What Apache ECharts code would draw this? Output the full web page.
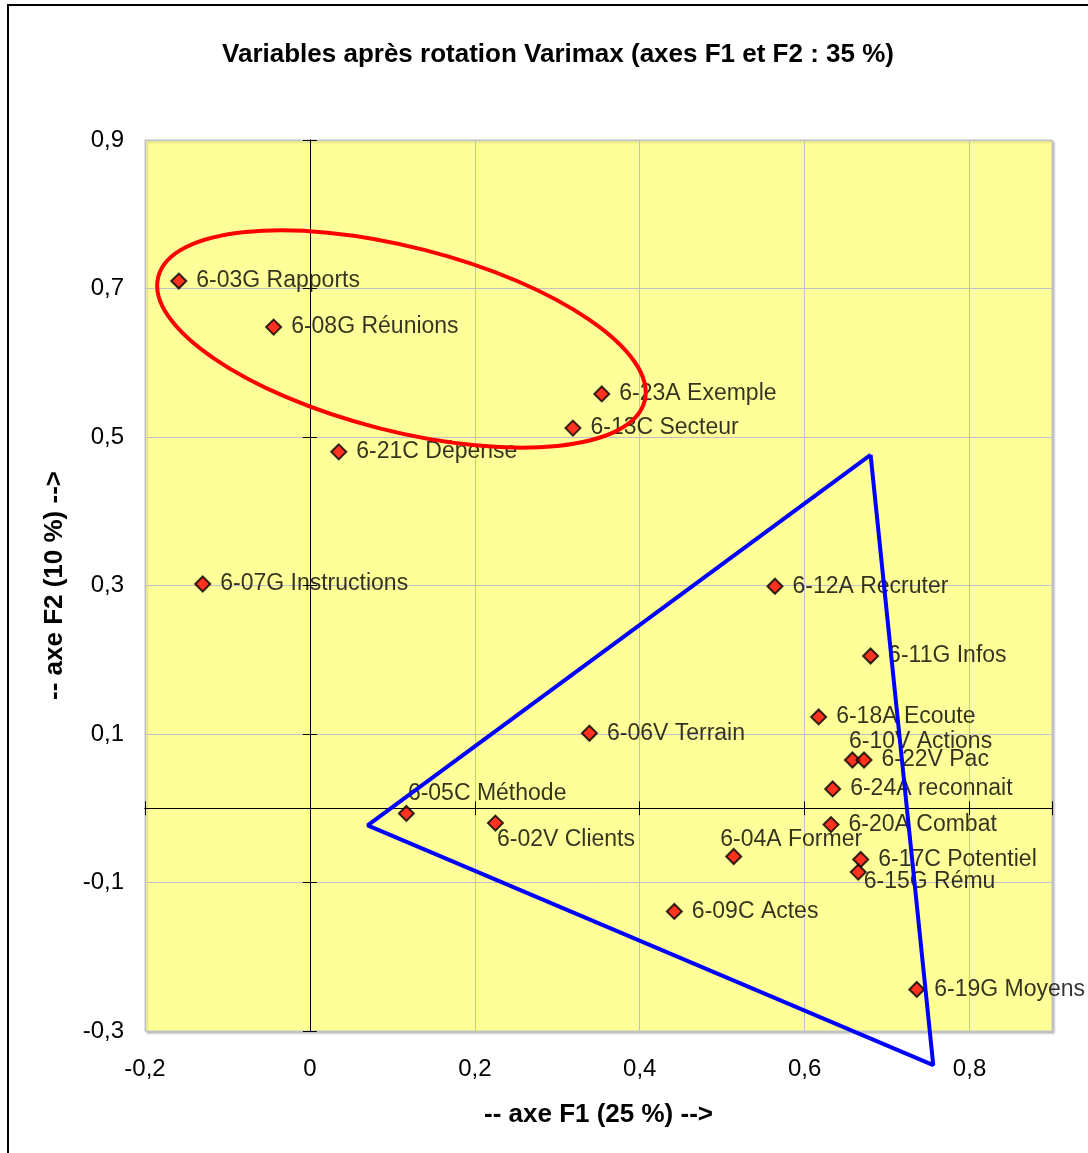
<!DOCTYPE html>
<html>
<head>
<meta charset="utf-8">
<title>Variables après rotation Varimax</title>
<script src="https://cdn.jsdelivr.net/npm/echarts@6/dist/echarts.min.js"></script>
<style>
  html, body { margin: 0; padding: 0; background: #ffffff; }
  #chart { width: 1088px; height: 1153px; }
</style>
</head>
<body>
<div id="chart"></div>
<script>
// Variable loadings on the two rotated factors
const variables = [
  '6-03G Rapports', '6-08G Réunions', '6-23A Exemple', '6-13C Secteur',
  '6-21C Dépense', '6-07G Instructions', '6-12A Recruter', '6-11G Infos',
  '6-18A Ecoute', '6-06V Terrain', '6-10V Actions', '6-22V Pac',
  '6-24A reconnait', '6-05C Méthode', '6-02V Clients', '6-20A Combat',
  '6-04A Former', '6-17C Potentiel', '6-15G Rému', '6-09C Actes',
  '6-19G Moyens'
];
const f1 = [
  -0.159, -0.044, 0.354, 0.319,
  0.035, -0.130, 0.564, 0.680,
  0.617, 0.339, 0.658, 0.672,
  0.634, 0.117, 0.225, 0.632,
  0.514, 0.668, 0.665, 0.442,
  0.736
];
const f2 = [
  0.710, 0.648, 0.558, 0.512,
  0.480, 0.302, 0.299, 0.205,
  0.123, 0.101, 0.065, 0.065,
  0.026, -0.007, -0.020, -0.022,
  -0.065, -0.069, -0.086, -0.139,
  -0.244
];

// Axis ranges and tick spacing
const xRange = [-0.2, 0.9];
const yRange = [-0.3, 0.9];
const tickStep = 0.2;

// Annotations: triangle grouping (F1, F2 vertices) and the circled group centre
const triangleVertices = [[0.680, 0.476], [0.070, -0.023], [0.756, -0.346]];
const ellipseCentre = [0.111, 0.632];

// Labels that sit away from the default right-hand position (pixel shifts)
const labelShift = {
  '6-10V Actions': [-21, -18],
  '6-05C Méthode': [-16, -20],
  '6-02V Clients': [-16, 17],
  '6-04A Former': [-31, -17],
  '6-15G Rému': [-12, 10]
};

const FONT = '"Liberation Sans", Arial, sans-serif';

function fmt(v) {
  if (Math.abs(v) < 1e-9) return '0';
  return v.toFixed(1).replace('.', ',');
}

const points = variables.map((name, i) => {
  const item = { name: name, value: [f1[i], f2[i]] };
  if (labelShift[name]) item.label = { offset: labelShift[name] };
  return item;
});

const triangleData = triangleVertices.concat([triangleVertices[0]]);

function valueAxis(range, extra) {
  return Object.assign({
    type: 'value',
    min: range[0],
    max: range[1],
    interval: tickStep,
    axisLine: { show: false, onZero: false },
    axisTick: { show: false },
    axisLabel: { show: false },
    splitLine: { show: false }
  }, extra);
}

const zeroLine = { show: true, onZero: true, lineStyle: { color: '#000000', width: 1 } };
const zeroTick = { show: true, length: 7, inside: false, lineStyle: { color: '#000000', width: 1 } };

const chart = echarts.init(document.getElementById('chart'), null, { renderer: 'canvas' });

const option = {
  backgroundColor: '#ffffff',
  animation: false,
  title: {
    text: 'Variables après rotation Varimax (axes F1 et F2 : 35 %)',
    left: 553,
    top: 37,
    textAlign: 'center',
    textStyle: { fontFamily: FONT, fontSize: 26, fontWeight: 'bold', color: '#000000' }
  },
  grid: {
    left: 145, top: 140, width: 907, height: 891,
    show: true,
    backgroundColor: '#ffff99',
    borderColor: '#c4c4c4',
    borderWidth: 1,
    shadowColor: 'rgba(0,0,0,0.25)',
    shadowBlur: 2,
    shadowOffsetX: 2,
    shadowOffsetY: 2
  },
  xAxis: [
    valueAxis(xRange, {
      position: 'bottom',
      axisLabel: {
        show: true, formatter: fmt, margin: 26, showMaxLabel: false,
        fontFamily: FONT, fontSize: 24, color: '#000000'
      },
      splitLine: { show: true, lineStyle: { color: '#c0c0c8', width: 1 } },
      name: '-- axe F1 (25 %) -->',
      nameLocation: 'middle',
      nameGap: 71,
      nameTextStyle: { fontFamily: FONT, fontSize: 26, fontWeight: 'bold', color: '#000000' }
    }),
    valueAxis(xRange, { position: 'bottom', axisLine: zeroLine, axisTick: zeroTick }),
    valueAxis(xRange, { position: 'top', axisLine: zeroLine, axisTick: zeroTick })
  ],
  yAxis: [
    valueAxis(yRange, {
      position: 'left',
      axisLabel: {
        show: true, formatter: fmt, margin: 21,
        fontFamily: FONT, fontSize: 24, color: '#000000'
      },
      splitLine: { show: true, lineStyle: { color: '#c0c0c8', width: 1 } },
      name: '-- axe F2 (10 %) -->',
      nameLocation: 'middle',
      nameRotate: 90,
      nameGap: 77,
      nameTextStyle: { fontFamily: FONT, fontSize: 26, fontWeight: 'bold', color: '#000000' }
    }),
    valueAxis(yRange, { position: 'left', axisLine: zeroLine, axisTick: zeroTick }),
    valueAxis(yRange, { position: 'right', axisLine: zeroLine, axisTick: zeroTick })
  ],
  series: [
    {
      type: 'scatter',
      xAxisIndex: 0,
      yAxisIndex: 0,
      symbol: 'diamond',
      symbolSize: 15,
      itemStyle: { color: '#ff0000', borderColor: '#000000', borderWidth: 2 },
      label: {
        show: true,
        position: 'right',
        distance: 9,
        formatter: p => p.name,
        fontFamily: FONT,
        fontSize: 23,
        color: '#000000'
      },
      data: points,
      z: 3
    },
    {
      type: 'line',
      xAxisIndex: 0,
      yAxisIndex: 0,
      data: triangleData,
      symbol: 'none',
      clip: false,
      lineStyle: { color: '#0000ff', width: 4 },
      silent: true,
      z: 5
    }
  ],
  graphic: [
    {
      type: 'rect',
      id: 'frame',
      shape: { x: 8, y: 5, width: 1200, height: 1300 },
      style: { fill: 'none', stroke: '#000000', lineWidth: 2 },
      silent: true,
      z: 10
    }
  ]
};

chart.setOption(option);

// Red ellipse around the first group, centred in data space
const c = chart.convertToPixel({ xAxisIndex: 0, yAxisIndex: 0 }, ellipseCentre);
chart.setOption({
  graphic: [
    {
      type: 'ellipse',
      id: 'group-ring',
      x: c[0],
      y: c[1],
      rotation: -0.25,
      shape: { cx: 0, cy: 0, rx: 251, ry: 92 },
      style: { fill: 'none', stroke: '#ff0000', lineWidth: 4 },
      silent: true,
      z: 6
    }
  ]
});
</script>
</body>
</html>
